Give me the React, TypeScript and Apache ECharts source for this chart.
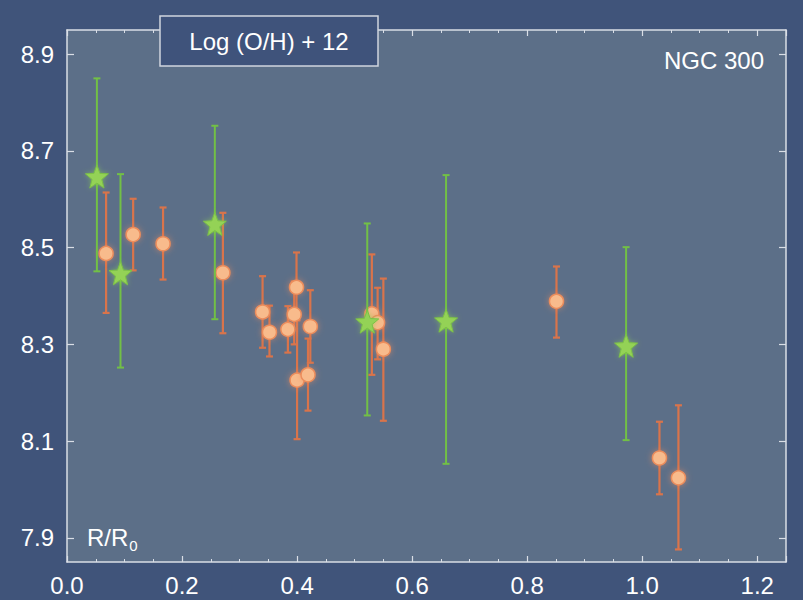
import React, { useEffect, useRef } from "react";
import * as echarts from "echarts";

// Stars (green) : R/R0, log(O/H)+12, error high, error low
const starX = [0.052, 0.093, 0.257, 0.522, 0.659, 0.972];
const starY = [8.647, 8.447, 8.549, 8.347, 8.349, 8.297];
const starHigh = [8.85, 8.652, 8.752, 8.55, 8.65, 8.501];
const starLow = [8.451, 8.252, 8.352, 8.153, 8.053, 8.102];

// Circles (orange)
const dotX = [0.068, 0.115, 0.167, 0.271, 0.34, 0.352, 0.384, 0.395, 0.399, 0.4, 0.419, 0.423, 0.53, 0.54, 0.55, 0.851, 1.03, 1.063];
const dotY = [8.488, 8.527, 8.508, 8.448, 8.367, 8.325, 8.331, 8.362, 8.418, 8.226, 8.237, 8.337, 8.363, 8.345, 8.29, 8.389, 8.065, 8.024];
const dotHigh = [8.614, 8.601, 8.583, 8.572, 8.441, 8.38, 8.379, 8.43, 8.49, 8.35, 8.312, 8.412, 8.486, 8.417, 8.436, 8.461, 8.14, 8.174];
const dotLow = [8.365, 8.453, 8.434, 8.323, 8.293, 8.275, 8.283, 8.3, 8.35, 8.104, 8.163, 8.262, 8.237, 8.269, 8.142, 8.314, 7.99, 7.876];

const yTicks = [7.9, 8.1, 8.3, 8.5, 8.7, 8.9];
const titleText = "Log (O/H) + 12";
const galaxyText = "NGC 300";

const FONT = "'Liberation Sans', Arial, Helvetica, sans-serif";

function starPath(): string {
  const pts: string[] = [];
  for (let i = 0; i < 10; i++) {
    const a = (-90 + i * 36) * (Math.PI / 180);
    const r = i % 2 === 0 ? 50 : 21;
    pts.push(`${(50 + r * Math.cos(a)).toFixed(2)} ${(50 + r * Math.sin(a)).toFixed(2)}`);
  }
  return "path://M" + pts.join(" L") + " Z";
}

function errorRender(color: string, lw: number) {
  return (params: any, api: any) => {
    const x = api.value(0);
    const lo = api.value(1);
    const hi = api.value(2);
    const pLo = api.coord([x, lo]);
    const pHi = api.coord([x, hi]);
    const w = 3.5;
    const style = { stroke: color, lineWidth: lw };
    return {
      type: "group",
      children: [
        { type: "line", shape: { x1: pLo[0], y1: pLo[1], x2: pHi[0], y2: pHi[1] }, style },
        { type: "line", shape: { x1: pLo[0] - w, y1: pLo[1], x2: pLo[0] + w, y2: pLo[1] }, style },
        { type: "line", shape: { x1: pHi[0] - w, y1: pHi[1], x2: pHi[0] + w, y2: pHi[1] }, style },
      ],
    };
  };
}

export default function App() {
  const ref = useRef<HTMLDivElement>(null);
  useEffect(() => {
    if (!ref.current) return;
    const chart = echarts.init(ref.current, null, { renderer: "svg" });
    const axisColor = "#d9dee6";
    const starData = starX.map((x, i) => [x, starY[i]]);
    const dotData = dotX.map((x, i) => [x, dotY[i]]);
    const starErr = starX.map((x, i) => [x, starLow[i], starHigh[i]]);
    const dotErr = dotX.map((x, i) => [x, dotLow[i], dotHigh[i]]);

    const xCommon = {
      type: "value",
      min: 0,
      max: 1.25,
      interval: 0.2,
      axisLine: { show: true, onZero: false, lineStyle: { color: axisColor, width: 1.5 } },
      axisTick: { show: true, inside: true, length: 6, lineStyle: { color: axisColor, width: 1.2 } },
      minorTick: { show: true, splitNumber: 4, length: 3, lineStyle: { color: axisColor, width: 1 } },
      splitLine: { show: false },
      minorSplitLine: { show: false },
    };
    const yCommon = {
      type: "value",
      min: 7.85,
      max: 8.95,
      axisLine: { show: true, onZero: false, lineStyle: { color: axisColor, width: 1.5 } },
      axisTick: { show: true, inside: true, length: 7, customValues: yTicks, lineStyle: { color: axisColor, width: 1.2 } },
      splitLine: { show: false },
    };

    chart.setOption({
      animation: false,
      backgroundColor: "#40547a",
      grid: {
        left: 67,
        top: 30,
        right: 17,
        bottom: 38,
        show: true,
        backgroundColor: "#5c6f88",
        borderWidth: 0,
      },
      xAxis: [
        {
          ...xCommon,
          position: "bottom",
          axisLabel: {
            show: true,
            showMaxLabel: false,
            color: "#ffffff",
            fontSize: 24,
            fontFamily: FONT,
            margin: 11,
            formatter: (v: number) => (v > 1.21 ? "" : v.toFixed(1)),
          },
        },
        {
          ...xCommon,
          position: "top",
          axisLabel: { show: false },
        },
      ],
      yAxis: [
        {
          ...yCommon,
          position: "left",
          axisLabel: {
            show: true,
            customValues: yTicks,
            color: "#ffffff",
            fontSize: 24,
            fontFamily: FONT,
            margin: 13,
            formatter: (v: number) => v.toFixed(1),
          },
        },
        {
          ...yCommon,
          position: "right",
          axisLabel: { show: false },
        },
      ],
      graphic: [
        {
          type: "group",
          z: 100,
          children: [
            {
              type: "rect",
              z: 100,
              shape: { x: 160, y: 16, width: 218, height: 50 },
              style: { fill: "#3f537b", stroke: "#cfd5de", lineWidth: 1.5 },
            },
            {
              type: "text",
              z: 101,
              x: 269,
              y: 41,
              style: {
                text: titleText,
                fill: "#ffffff",
                font: `24px ${FONT}`,
                textAlign: "center",
                textVerticalAlign: "middle",
              },
            },
          ],
        },
        {
          type: "text",
          z: 100,
          x: 764,
          y: 60,
          style: {
            text: galaxyText,
            fill: "#ffffff",
            font: `24px ${FONT}`,
            textAlign: "right",
            textVerticalAlign: "middle",
          },
        },
        {
          type: "text",
          z: 100,
          x: 87,
          y: 537,
          style: {
            text: "{m|R/R}{s|0}",
            fill: "#ffffff",
            textVerticalAlign: "middle",
            rich: {
              m: { fontSize: 24, fontFamily: FONT, fill: "#ffffff", verticalAlign: "middle" },
              s: { fontSize: 15, fontFamily: FONT, fill: "#ffffff", padding: [16, 0, 0, 1] },
            },
          },
        },
      ],
      series: [
        {
          type: "custom",
          name: "dot-err",
          renderItem: errorRender("#d9744b", 2.2),
          data: dotErr,
          encode: { x: 0, y: [1, 2] },
          z: 2,
          silent: true,
        },
        {
          type: "scatter",
          name: "dots",
          data: dotData,
          symbol: "circle",
          symbolSize: 14,
          itemStyle: {
            color: "#f8bb8c",
            borderColor: "#ec8d5c",
            borderWidth: 1.5,
            opacity: 1,
            shadowBlur: 6,
            shadowColor: "rgba(240,140,90,0.6)",
          },
          z: 3,
        },
        {
          type: "custom",
          name: "star-err",
          renderItem: errorRender("#72c046", 2),
          data: starErr,
          encode: { x: 0, y: [1, 2] },
          z: 4,
          silent: true,
        },
        {
          type: "scatter",
          name: "stars",
          data: starData,
          symbol: starPath(),
          symbolSize: 23,
          itemStyle: {
            color: "#94d257",
            borderColor: "#7cc246",
            borderWidth: 1,
            opacity: 1,
            shadowBlur: 5,
            shadowColor: "rgba(140,210,80,0.6)",
          },
          z: 5,
        },
      ],
    });
    return () => chart.dispose();
  }, []);
  return (
    <div
      ref={ref}
      style={{ position: "fixed", left: 0, top: 0, width: 803, height: 600 }}
    />
  );
}
